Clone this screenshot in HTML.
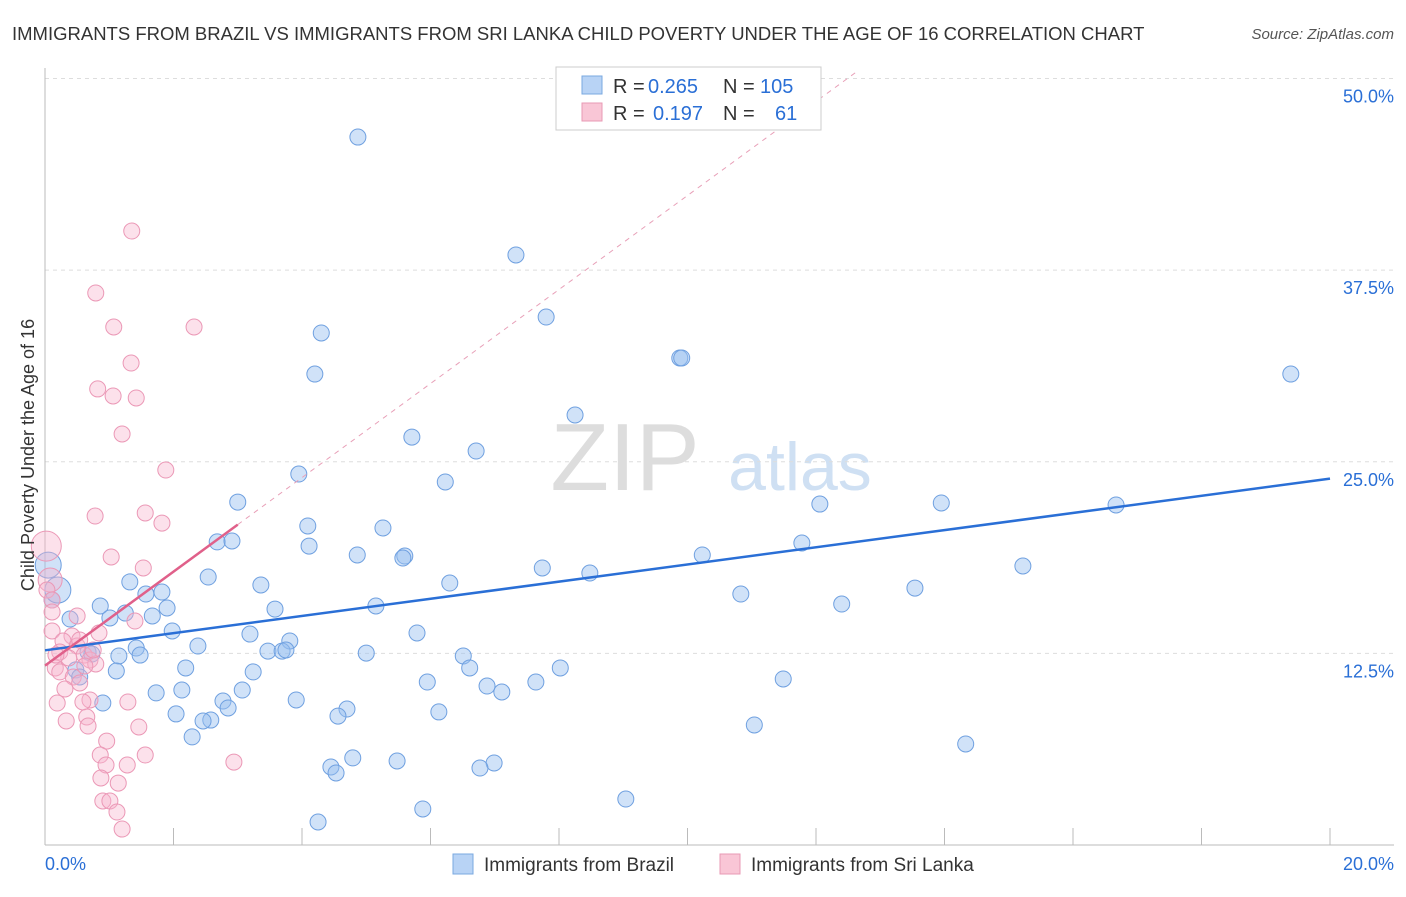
<!DOCTYPE html>
<html><head><meta charset="utf-8">
<style>
body{margin:0;background:#fff;font-family:"Liberation Sans",sans-serif;}
svg text{font-family:"Liberation Sans",sans-serif;}
</style></head>
<body>
<svg id="chart" width="1406" height="892" xmlns="http://www.w3.org/2000/svg">
<text x="12" y="40" font-size="18.5" fill="#333">IMMIGRANTS FROM BRAZIL VS IMMIGRANTS FROM SRI LANKA CHILD POVERTY UNDER THE AGE OF 16 CORRELATION CHART</text>
<text x="1394" y="39" font-size="15" fill="#555" font-style="italic" text-anchor="end">Source: ZipAtlas.com</text>
<text x="625" y="490" font-size="96" fill="#ddd" font-family="Liberation Serif" text-anchor="middle">ZIP</text>
<text x="800" y="490" font-size="68" fill="#cfe0f3" text-anchor="middle">atlas</text>
<g id="grid"></g>
<g id="axes"></g>
<g id="marks"></g>
<text transform="translate(34,455) rotate(-90)" font-size="18" fill="#333" text-anchor="middle">Child Poverty Under the Age of 16</text>
<g>
<rect x="556" y="67" width="265" height="63" fill="#fff" stroke="#ccc"/>
<rect x="582" y="76" width="20" height="18" fill="#b8d3f5" stroke="#7aa8e0"/>
<rect x="582" y="103" width="20" height="18" fill="#f9c6d6" stroke="#e89ab4"/>
<text x="613" y="93" font-size="20" fill="#333">R =</text>
<text x="648" y="93" font-size="20" fill="#2a6fd6">0.265</text>
<text x="723" y="93" font-size="20" fill="#333">N =</text>
<text x="760" y="93" font-size="20" fill="#2a6fd6">105</text>
<text x="613" y="120" font-size="20" fill="#333">R =</text>
<text x="653" y="120" font-size="20" fill="#2a6fd6">0.197</text>
<text x="723" y="120" font-size="20" fill="#333">N =</text>
<text x="775" y="120" font-size="20" fill="#2a6fd6">61</text>
</g>
<g>
<rect x="453" y="854" width="20" height="20" fill="#b8d3f5" stroke="#7aa8e0"/>
<text x="484" y="871" font-size="19" fill="#333">Immigrants from Brazil</text>
<rect x="720" y="854" width="20" height="20" fill="#f9c6d6" stroke="#e89ab4"/>
<text x="751" y="871" font-size="19" fill="#333">Immigrants from Sri Lanka</text>
</g>
</svg>
<script>
const yTicks=[12.5,25,37.5,50];
const yTickLabels=["12.5%","25.0%","37.5%","50.0%"];
const xTickLabels=["0.0%","20.0%"];
const bluePx=[[358,137],[516,255],[546,317],[321,333],[680,358],[682,358],[315,374],[1291,374],[575,415],[412,437],[476,451],[445,482],[299,474],[238,502],[820,504],[941,503],[1116,505],[308,526],[383,528],[217,542],[232,541],[309,546],[357,555],[405,556],[403,558],[702,555],[802,543],[542,568],[590,573],[1023,566],[450,583],[208,577],[130,582],[261,585],[162,592],[146,594],[915,588],[741,594],[376,606],[842,604],[100,606],[275,609],[167,608],[125,613],[110,618],[152,616],[70,619],[172,631],[250,634],[417,633],[290,641],[198,646],[136,648],[88,652],[268,651],[282,651],[286,650],[366,653],[463,656],[140,655],[119,656],[92,654],[560,668],[470,668],[186,668],[253,672],[116,671],[76,670],[80,677],[427,682],[783,679],[536,682],[487,686],[502,692],[156,693],[182,690],[242,690],[223,701],[103,703],[296,700],[347,709],[228,708],[338,716],[176,714],[439,712],[211,720],[203,721],[192,737],[754,725],[966,744],[353,758],[397,761],[494,763],[331,767],[336,773],[480,768],[626,799],[423,809],[318,822],[52,600],[58,590],[48,565],[600,97]];
const pinkPx=[[132,231],[96,293],[114,327],[194,327],[131,363],[98,389],[113,396],[136,398],[122,434],[166,470],[95,516],[145,513],[162,523],[111,557],[143,568],[46,546],[50,580],[47,590],[52,600],[77,616],[52,631],[72,636],[63,641],[60,652],[77,646],[84,655],[69,658],[90,660],[96,664],[55,668],[60,672],[73,677],[80,683],[65,689],[90,700],[57,703],[83,702],[128,702],[66,721],[87,717],[139,727],[88,726],[107,741],[145,755],[100,755],[106,765],[127,765],[234,762],[101,778],[118,783],[103,801],[110,801],[117,812],[122,829],[135,621],[80,640],[85,666],[93,650],[56,655],[99,633],[52,612]];
const blueX=bluePx.map(p=>+((p[0]-45)/64.25).toFixed(2));
const blueY=bluePx.map(p=>+((845-p[1])/15.33).toFixed(2));
const pinkX=pinkPx.map(p=>+((p[0]-45)/64.25).toFixed(2));
const pinkY=pinkPx.map(p=>+((845-p[1])/15.33).toFixed(2));
const blueR=blueX.map((v,i)=>i===102?18:(i===100||i===101?13:8));
const pinkR=pinkX.map((v,i)=>i===15?15:(i===16?12:8));
const blueTrend=[12.7,23.9];
const pinkTrend=[11.7,20.9];
const pinkTrendEnd=3.0;

const X=v=>45+v*64.25, Y=v=>845-v*15.33;
const NS="http://www.w3.org/2000/svg";
function mk(tag,attrs,parent){const e=document.createElementNS(NS,tag);for(const k in attrs)e.setAttribute(k,attrs[k]);document.getElementById(parent).appendChild(e);return e;}
yTicks.forEach((t,i)=>{
 const l=mk('line',{x1:45,x2:1394,y1:Y(t),y2:Y(t),stroke:'#ddd','stroke-dasharray':'4,4'},'grid');
 
 
 const tx=mk('text',{x:1394,y:Y(t)+24,'font-size':18,fill:'#2a6fd6','text-anchor':'end'},'axes');
 tx.textContent=yTickLabels[i];
 
 
});
const ax=mk('line',{x1:45,x2:45,y1:68,y2:845,stroke:'#bbb'},'axes');


const bx=mk('line',{x1:45,x2:1394,y1:845,y2:845,stroke:'#bbb'},'axes');


for(let i=0;i<=10;i++){
 const t=mk('line',{x1:X(i*2),x2:X(i*2),y1:828,y2:845,stroke:'#bbb'},'axes');
 
 
}
[[0,'start',45],[20,'end',1394]].forEach((d,i)=>{
 const t=mk('text',{x:d[2],y:870,'font-size':18,fill:'#2a6fd6','text-anchor':d[1]},'axes');
 t.textContent=xTickLabels[i];
 
 
});
blueX.forEach((x,i)=>{
 const c=mk('circle',{cx:X(x),cy:Y(blueY[i]),r:blueR[i],fill:'rgba(150,190,240,0.45)',stroke:'#6fa0e0','stroke-width':1},'marks');
 
 
});
pinkX.forEach((x,i)=>{
 const c=mk('circle',{cx:X(x),cy:Y(pinkY[i]),r:pinkR[i],fill:'rgba(248,180,205,0.4)',stroke:'#eb98b6','stroke-width':1},'marks');
 
 
});
const slope=(pinkTrend[1]-pinkTrend[0])/pinkTrendEnd;
const xEnd=(50.5-pinkTrend[0])/slope;
const pd=mk('line',{x1:X(pinkTrendEnd),y1:Y(pinkTrend[1]),x2:X(xEnd),y2:Y(pinkTrend[0]+slope*xEnd),stroke:'#e8a0b8','stroke-dasharray':'5,5','stroke-width':1},'marks');


const bl=mk('line',{x1:X(0),y1:Y(blueTrend[0]),x2:X(20),y2:Y(blueTrend[1]),stroke:'#2a6fd6','stroke-width':2.5},'marks');


const pl=mk('line',{x1:X(0),y1:Y(pinkTrend[0]),x2:X(pinkTrendEnd),y2:Y(pinkTrend[1]),stroke:'#e0608a','stroke-width':2.5},'marks');


</script>
</body></html>
